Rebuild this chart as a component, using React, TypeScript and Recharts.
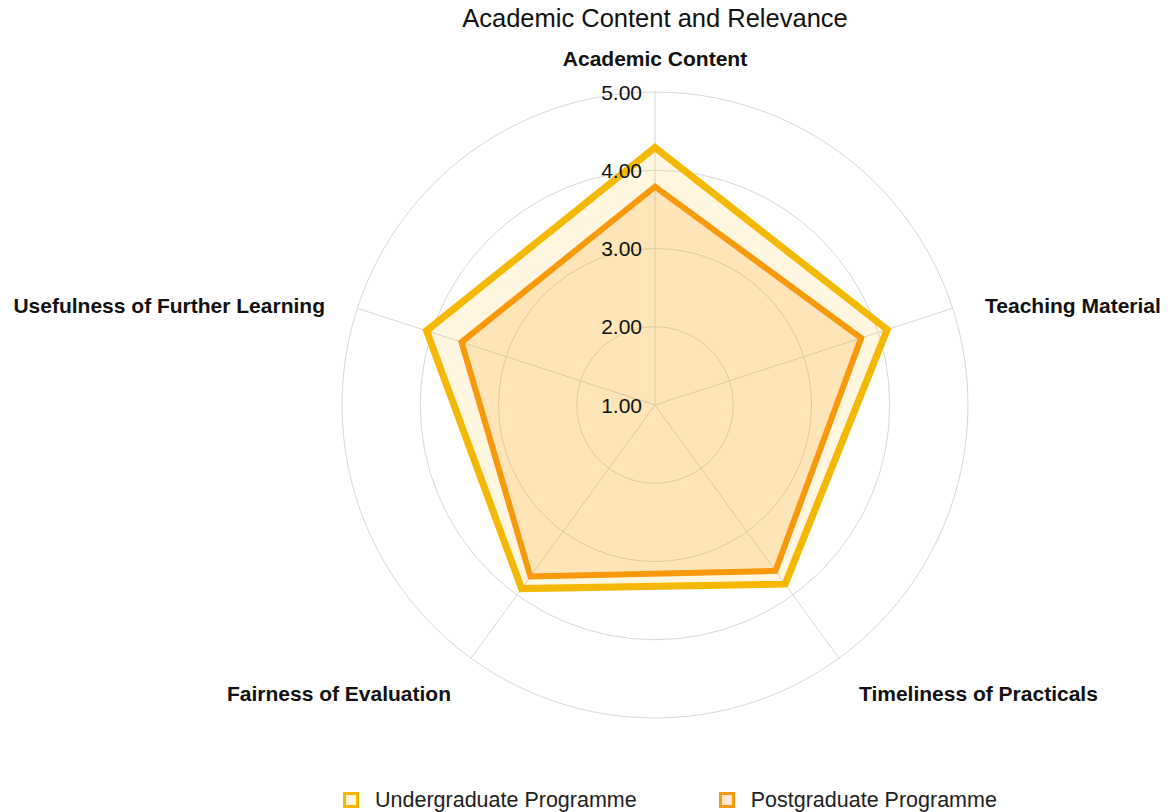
import { Legend, PolarAngleAxis, PolarGrid, PolarRadiusAxis, Radar, RadarChart } from 'recharts'

const categories = [
  'Academic Content',
  'Teaching Material',
  'Timeliness of Practicals',
  'Fairness of Evaluation',
  'Usefulness of Further Learning',
]
const undergraduate = [4.29, 4.12, 3.83, 3.9, 4.07]
const postgraduate = [3.79, 3.77, 3.62, 3.71, 3.6]
const seriesNames = ['Undergraduate Programme', 'Postgraduate Programme']
const radiusDomain = [1, 5]

const data = categories.map((category, i) => ({
  category,
  ug: undergraduate[i],
  pg: postgraduate[i],
}))

const FONT = '"Liberation Sans", Arial, Helvetica, sans-serif'
const CX = 655
const CY = 405
const OUTER = 313
const UG_COLOR = '#F5B800'
const PG_COLOR = '#F8990C'

function AngleTick(props: any) {
  const { x, y, payload } = props
  const dx = x - CX
  const dy = y - CY
  const len = Math.hypot(dx, dy) || 1
  const ux = dx / len
  const uy = dy / len
  const r = OUTER + 34
  const top = Math.abs(ux) < 0.1
  const anchor = top ? 'middle' : ux > 0 ? 'start' : 'end'
  return (
    <text
      x={CX + ux * r}
      y={CY + uy * r + (top ? 0 : 8)}
      textAnchor={anchor}
      dominantBaseline="central"
      fontFamily={FONT}
      fontWeight="bold"
      fontSize={21}
      fill="#111"
    >
      {payload.value}
    </text>
  )
}

function RadiusTick(props: any) {
  const { x, y, payload } = props
  return (
    <text x={x - 13} y={y} textAnchor="end" dominantBaseline="central" fontFamily={FONT} fontSize={21} fill="#111">
      {Number(payload.value).toFixed(2)}
    </text>
  )
}

function LegendContent() {
  const colors = [UG_COLOR, PG_COLOR]
  const fills = ['rgba(245,184,0,0.15)', 'rgba(248,154,14,0.2)']
  return (
    <div style={{ display: 'flex', alignItems: 'center', fontFamily: FONT, fontSize: 21.5, lineHeight: '26px', color: '#222' }}>
      {seriesNames.map((name, i) => (
        <div key={name} style={{ display: 'flex', alignItems: 'center', marginRight: 82 }}>
          <span
            style={{
              display: 'inline-block',
              width: 10,
              height: 10,
              border: `3px solid ${colors[i]}`,
              background: fills[i],
              marginRight: 16,
            }}
          />
          <span>{name}</span>
        </div>
      ))}
    </div>
  )
}

export default function App() {
  return (
    <div style={{ position: 'absolute', left: 0, top: 0, width: 1168, height: 812, background: '#fff', overflow: 'hidden' }}>
      <div
        style={{
          position: 'absolute',
          left: 355,
          top: 3,
          width: 600,
          textAlign: 'center',
          fontFamily: FONT,
          fontSize: 25.5,
          color: '#111',
          lineHeight: '30px',
        }}
      >
        Academic Content and Relevance
      </div>
      <RadarChart width={1168} height={812} data={data} cx={CX} cy={CY} outerRadius={OUTER} margin={{ top: 0, right: 0, bottom: 0, left: 0 }}>
        <PolarGrid gridType="circle" stroke="#d6d6d6" strokeWidth={1} />
        <PolarAngleAxis dataKey="category" tick={<AngleTick />} tickLine={false} axisLine={false} />
        <PolarRadiusAxis
          angle={90}
          domain={radiusDomain}
          tickCount={5}
          tick={<RadiusTick />}
          axisLine={false}
          tickLine={false}
        />
        <Radar
          name={seriesNames[0]}
          dataKey="ug"
          stroke={UG_COLOR}
          strokeWidth={7}
          fill={UG_COLOR}
          fillOpacity={0.13}
          strokeLinejoin="miter"
          isAnimationActive={false}
        />
        <Radar
          name={seriesNames[1]}
          dataKey="pg"
          stroke={PG_COLOR}
          strokeWidth={6}
          fill={PG_COLOR}
          fillOpacity={0.18}
          strokeLinejoin="miter"
          isAnimationActive={false}
        />
        <Legend
          content={<LegendContent />}
          wrapperStyle={{ position: 'absolute', left: 343, top: 787, width: 820 }}
        />
      </RadarChart>
    </div>
  )
}
